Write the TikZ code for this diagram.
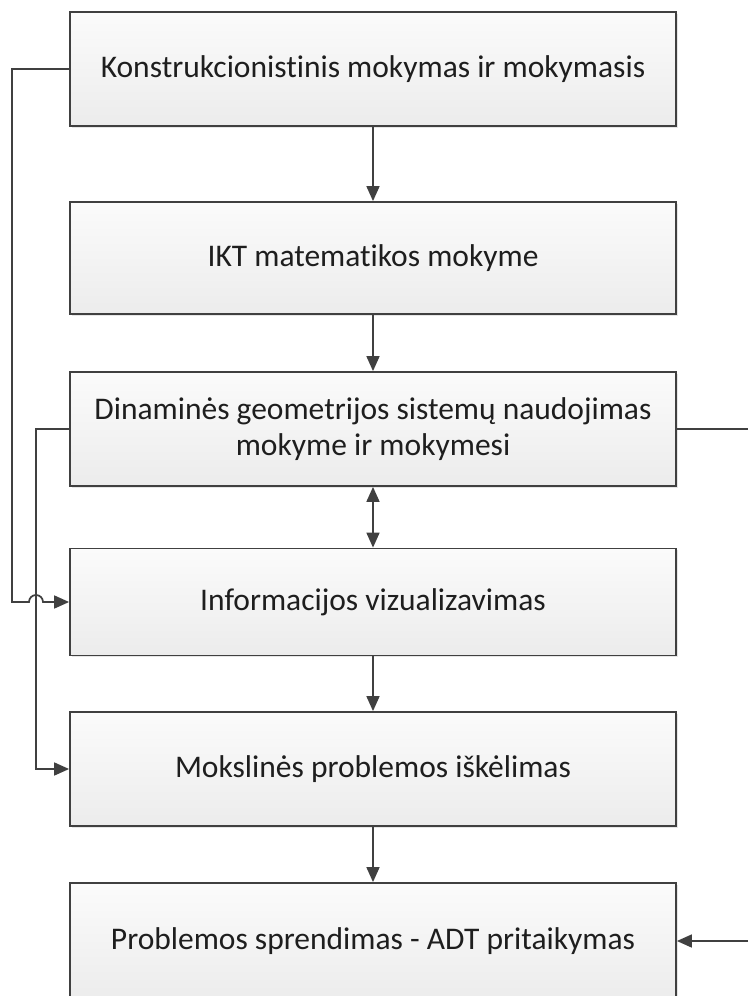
\documentclass[tikz,border=0pt]{standalone}
\usepackage{fontspec}
\setmainfont{Carlito}[Ligatures=NoCommon]
\usetikzlibrary{arrows.meta,shadows}
\definecolor{edge}{HTML}{404040}
\definecolor{topfill}{HTML}{FBFBFB}
\definecolor{botfill}{HTML}{ECECEC}
\definecolor{txt}{HTML}{1E1E1E}
\tikzset{
  box/.style={draw=edge, line width=1.8pt, top color=topfill, bottom color=botfill,
    minimum width=606pt, align=center, text=txt,
    font=\fontsize{31.5}{36}\selectfont,
    drop shadow={shadow xshift=1.5pt, shadow yshift=-1.5pt, opacity=0.2, fill=gray}},
  conn/.style={draw=edge, line width=1.7pt},
  arr/.style={conn, -{Triangle[length=15pt,width=13pt]}},
  darr/.style={conn, {Triangle[length=15pt,width=13pt]}-{Triangle[length=15pt,width=13pt]}}
}
\begin{document}
\begin{tikzpicture}[x=1pt,y=-1pt]
\useasboundingbox (0,0) rectangle (748,996);
\node[box, minimum height=114pt] (b1) at (373,69) {Konstrukcionistinis mokymas ir mokymasis};
\node[box, minimum height=112pt] (b2) at (373,258) {IKT matematikos mokyme};
\node[box, minimum height=114pt] (b3) at (373,429) {Dinaminės geometrijos sistemų naudojimas\\mokyme ir mokymesi};
\node[box, minimum height=107pt] (b4) at (373,602) {Informacijos vizualizavimas};
\node[box, minimum height=114pt] (b5) at (373,769) {Mokslinės problemos iškėlimas};
\node[box, minimum height=116pt] (b6) at (373,941) {Problemos sprendimas - ADT pritaikymas};
\coordinate (r3) at (748,429);
\coordinate (r6) at (748,941);
\draw[arr] (b1.south) -- (b2.north);
\draw[arr] (b2.south) -- (b3.north);
\draw[darr] (b3.south) -- (b4.north);
\draw[arr] (b4.south) -- (b5.north);
\draw[arr] (b5.south) -- (b6.north);
\draw[arr] (b3.west) -- (36,429) -- (36,769) -- (b5.west);
\draw[arr] (b1.west) -- (12,69) -- (12,602) -- (29,602) arc (180:360:7) -- (b4.west);
\draw[conn] (b3.east) -- (r3);
\draw[arr] (r6) -- (b6.east);
\end{tikzpicture}
\end{document}
